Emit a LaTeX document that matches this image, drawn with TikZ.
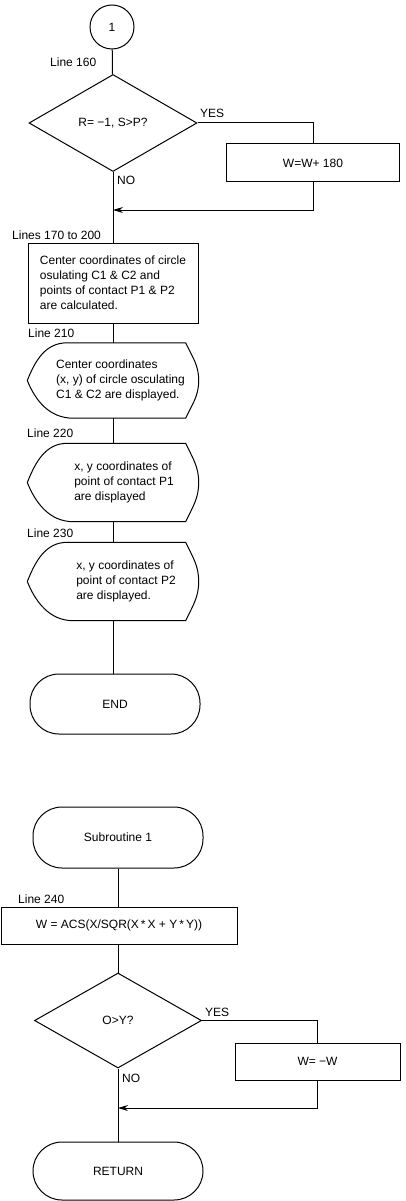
\documentclass[tikz,border=0pt]{standalone}
\usepackage{fontspec}
\setmainfont{Liberation Sans}
\usetikzlibrary{shapes.geometric,arrows.meta}

\begin{document}
\begin{tikzpicture}[x=1pt, y=1pt,
        every node/.style={align=center, font=\fontsize{12}{15}\selectfont, inner sep=2pt},
        linea/.style={line width=1pt},
        proc/.style={draw, line width=1pt, rectangle, minimum height=38pt},
        dec/.style={draw, line width=1pt, diamond, inner sep=0pt, minimum width=168pt, minimum height=97pt},
        term/.style={draw, line width=1pt, rounded corners=29pt, minimum width=170pt, minimum height=60pt},
        conec/.style={draw, line width=1pt, circle, minimum size=44pt},
        disp/.style={minimum width=171pt, minimum height=78pt},
        etiq/.style={anchor=west, inner sep=0pt},
        flecha/.style={->, >={Stealth[length=10pt,width=6pt]}, line width=1pt}
    ]
    \useasboundingbox (0,0) rectangle (405,-1201);

    % programa principal
    \node (c1) [conec] at (112,-27) {1};
    \node (q1) [dec] at (113,-123) {R= −1, S>P?};
    \node (b1) [proc, minimum width=173pt] at (313,-163) {W=W+ 180};
    \node (p1) [proc, align=left, minimum width=170pt, minimum height=80pt] at (113,-283)
        {Center coordinates of circle\\osulating C1 \& C2 and\\points of contact P1 \& P2\\are calculated.};
    \node (d1) [disp, minimum height=75pt] at (113,-380.5)
        {\hspace*{15pt}\begin{tabular}{@{}l@{}}Center coordinates\\(x, y) of circle osculating\\C1 \& C2 are displayed.\end{tabular}};
    \node (d2) [disp] at (113,-482.5)
        {\hspace*{22pt}\begin{tabular}{@{}l@{}}x, y coordinates of\\point of contact P1\\are displayed\end{tabular}};
    \node (d3) [disp] at (113,-581.5)
        {\hspace*{26pt}\begin{tabular}{@{}l@{}}x, y coordinates of\\point of contact P2\\are displayed.\end{tabular}};
    \node (fin) [term] at (115,-704) {END};
    \coordinate (m1) at (113,-210);

    \node (l160) [etiq] at (50,-62) {Line 160};
    \node (l170) [etiq] at (12,-235) {Lines 170 to 200};
    \node (l210) [etiq] at (28,-333) {Line 210};
    \node (l220) [etiq] at (27,-433) {Line 220};
    \node (l230) [etiq] at (27,-533) {Line 230};
    \node (si1) [etiq] at (200,-113) {YES};
    \node (no1) [etiq] at (117,-180) {NO};

    % subrutina
    \node (sub) [term, minimum height=61pt] at (118,-837.5) {Subroutine 1};
    \node (s1) [proc, minimum width=236pt, minimum height=37pt] at (119,-925.5) {W = ACS(X/SQR(X\,*\,X + Y\,*\,Y))};
    \node (q2) [dec, minimum width=167pt, minimum height=95pt] at (118,-1020.5) {O>Y?};
    \node (b2) [proc, minimum width=165pt, minimum height=37pt] at (317.5,-1061.5) {W= −W};
    \node (ret) [term, minimum height=58pt] at (118,-1171) {RETURN};
    \coordinate (m2) at (118,-1108);

    \node (l240) [etiq] at (18,-899) {Line 240};
    \node (si2) [etiq] at (205,-1012) {YES};
    \node (no2) [etiq] at (122,-1078) {NO};

    % contorno de las salidas por pantalla
    \foreach \n in {d1,d2,d3}
        \draw [linea, line join=round] ([xshift=40pt]\n.north west) -- ([xshift=-13pt]\n.north east)
            to[out=-65,in=90] (\n.east) to[out=-90,in=65] ([xshift=-13pt]\n.south east)
            -- ([xshift=46pt]\n.south west) .. controls +(-24,0) and +(8,-20) .. (\n.west)
            .. controls +(8,20) and +(-22,0) .. ([xshift=40pt]\n.north west);

    \draw [linea] (c1) -- (q1);
    \draw [linea] (q1.east) -| (b1.north);
    \draw [linea] (q1.south) -- (p1.north);
    \draw [flecha] (b1.south) |- (m1);
    \draw [linea] (p1) -- (d1);
    \draw [linea] (d1) -- (d2);
    \draw [linea] (d2) -- (d3);
    \draw [linea] (d3.south) -- (d3.south |- fin.north);

    \draw [linea] (sub) -- (sub |- s1.north);
    \draw [linea] (sub |- s1.south) -- (q2.north);
    \draw [linea] (q2.east) -| (b2.north);
    \draw [linea] (q2.south) -- (ret.north);
    \draw [flecha] (b2.south) |- (m2);
\end{tikzpicture}
\end{document}
